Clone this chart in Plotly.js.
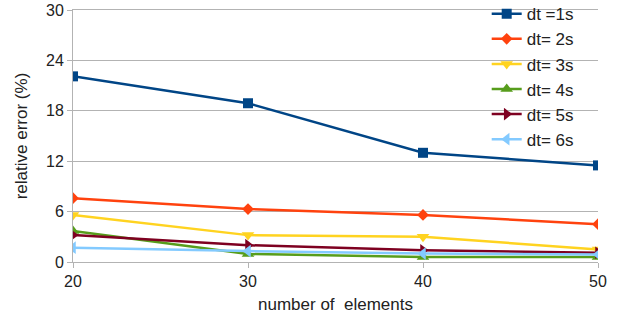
<!DOCTYPE html>
<html>
<head>
<meta charset="utf-8">
<script src="https://cdn.plot.ly/plotly-3.0.1.min.js"></script>
<style>html,body{margin:0;padding:0;background:#fff}#chart{width:618px;height:319px}</style>
</head>
<body>
<div id="chart"></div>
<script>
const elements = [20, 30, 40, 50];
const seriesNames = ["dt =1s", "dt= 2s", "dt= 3s", "dt= 4s", "dt= 5s", "dt= 6s"];
const dt1 = [22.1, 18.9, 13.0, 11.5];
const dt2 = [7.6, 6.3, 5.6, 4.5];
const dt3 = [5.6, 3.2, 3.0, 1.5];
const dt4 = [3.7, 0.95, 0.6, 0.6];
const dt5 = [3.2, 2.0, 1.4, 1.1];
const dt6 = [1.7, 1.3, 1.0, 0.9];
const yTicks = [0, 6, 12, 18, 24, 30];

const allSeries = [dt1, dt2, dt3, dt4, dt5, dt6];
const colors = ["#004586", "#ff420e", "#ffd320", "#579d1c", "#7e0021", "#83caff"];
const symbols = ["square", "diamond", "triangle-down", "triangle-up", "triangle-right", "triangle-left"];
const sizes = [10, 9, 11, 11, 11, 11];

const traces = allSeries.map((vals, i) => ({
  x: elements, y: vals, name: seriesNames[i], type: "scatter", mode: "lines+markers",
  legendgroup: "g" + i,
  line: {color: colors[i], width: 2.5},
  marker: {symbol: symbols[i], color: colors[i], size: sizes[i]}
}));

const layout = {
  width: 618, height: 319,
  margin: {l: 73, r: 20, t: 10, b: 57, autoexpand: false},
  paper_bgcolor: "#fff", plot_bgcolor: "#fff",
  font: {family: "Liberation Sans, Arial, sans-serif", size: 16, color: "#222"},
  showlegend: true,
  legend: {x: 0.788, y: 1.055, xanchor: "left", yanchor: "top", bgcolor: "rgba(0,0,0,0)",
    font: {size: 17, color: "#222"}, tracegroupgap: 0, itemwidth: 30},
  xaxis: {
    range: [20, 50], tickvals: elements, ticktext: elements.map(String),
    showgrid: false, zeroline: false, showline: true, mirror: true, linecolor: "#b3b3b3", linewidth: 1,
    ticks: "outside", ticklen: 5, tickcolor: "#b3b3b3",
    title: {text: "number of  elements", font: {size: 17}, standoff: 8}
  },
  yaxis: {
    range: [0, 30], tickvals: yTicks, ticktext: yTicks.map(String),
    showgrid: true, gridcolor: "#b3b3b3", gridwidth: 1, zeroline: false,
    showline: true, linecolor: "#b3b3b3", ticks: "outside", ticklen: 5, tickcolor: "#b3b3b3",
    title: {text: "relative error (%)", font: {size: 17}, standoff: 14}
  }
};
Plotly.newPlot("chart", traces, layout, {displayModeBar: false, staticPlot: true});
</script>
</body>
</html>
